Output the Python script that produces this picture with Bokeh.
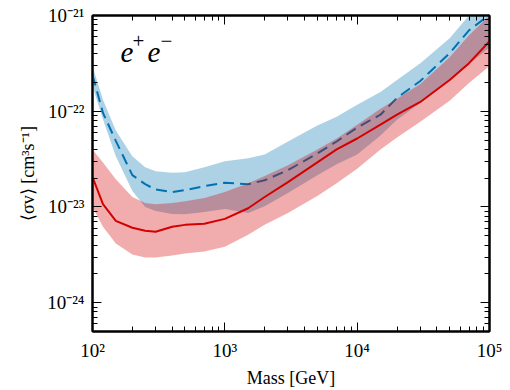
from bokeh.plotting import figure
from bokeh.models import LogAxis, LogTicker, CustomJSTickFormatter, Label, Range1d
from bokeh.embed import file_html
from bokeh.resources import INLINE

# ---- data ----
mass = [100, 120, 150, 200, 250, 300, 400, 500, 700, 1000, 1500, 2000,
        3000, 5000, 7000, 10000, 15000, 20000, 30000, 50000, 70000, 100000]

blue_med = [2.39e-22, 9.6e-23, 4.9e-23, 2.15e-23, 1.73e-23, 1.52e-23, 1.43e-23,
            1.50e-23, 1.65e-23, 1.79e-23, 1.73e-23, 1.90e-23, 2.42e-23, 3.63e-23,
            4.83e-23, 6.75e-23, 9.2e-23, 1.38e-22, 2.07e-22, 4.04e-22, 7.0e-22, 1.02e-21]
blue_hi = [2.96e-22, 1.32e-22, 6.28e-23, 3.38e-23, 2.60e-23, 2.36e-23, 2.28e-23,
           2.31e-23, 2.60e-23, 3.00e-23, 3.22e-23, 3.54e-23, 4.83e-23, 7.08e-23,
           8.77e-23, 1.17e-22, 1.59e-22, 2.12e-22, 3.18e-22, 5.78e-22, 1.0e-21, 1.8e-21]
blue_lo = [1.84e-22, 8.2e-23, 3.38e-23, 1.47e-23, 1.0e-23, 9.1e-24, 8.46e-24,
           8.4e-24, 8.87e-24, 9.53e-24, 8.67e-24, 1.02e-23, 1.40e-23, 2.15e-23,
           2.79e-23, 3.54e-23, 5.57e-23, 8.17e-23, 1.22e-22, 2.12e-22, 3.10e-22, 4.66e-22]

red_med = [2.05e-23, 1.07e-23, 7.16e-24, 6.06e-24, 5.64e-24, 5.51e-24, 6.21e-24,
           6.50e-24, 6.67e-24, 7.51e-24, 9.7e-24, 1.27e-23, 1.82e-23, 2.92e-23,
           3.99e-23, 5.19e-23, 7.24e-23, 9.2e-23, 1.25e-22, 2.12e-22, 3.18e-22, 5.38e-22]
red_hi = [3.99e-23, 2.92e-23, 1.95e-23, 1.27e-23, 1.10e-23, 1.07e-23, 1.10e-23,
          1.15e-23, 1.24e-23, 1.43e-23, 1.77e-23, 2.10e-23, 2.72e-23, 3.99e-23,
          5.19e-23, 7.24e-23, 1.06e-22, 1.35e-22, 1.93e-22, 3.67e-22, 6.21e-22, 1.0e-21]
red_lo = [1.0e-23, 6.21e-24, 4.14e-24, 3.18e-24, 2.96e-24, 2.96e-24, 3.11e-24,
          3.26e-24, 3.42e-24, 3.85e-24, 5.13e-24, 6.50e-24, 8.67e-24, 1.30e-23,
          1.77e-23, 2.5e-23, 3.99e-23, 5.31e-23, 7.78e-23, 1.29e-22, 1.97e-22, 2.96e-22]

x_limits = (1e2, 1e5)
y_limits = (5e-25, 1e-21)
label_pos = (163, 3.85e-22)
# label pieces: (text, x_offset px, y_offset px, size, style)
label_parts = [("e", 0, 3, "29px", "italic"),
               ("+", 12, 14, "21px", "normal"),
               ("e", 27, 3, "29px", "italic"),
               ("−", 40, 14, "21px", "normal")]

FONT = "Liberation Serif"
BLUE = "#0072B2"
RED = "#d40000"

p = figure(width=510, height=390, x_axis_type="log", y_axis_type="log",
           x_range=Range1d(*x_limits), y_range=Range1d(*y_limits),
           output_backend="svg", toolbar_location=None,
           min_border_left=92, min_border_right=21, min_border_top=15, min_border_bottom=56)
p.grid.visible = False
p.background_fill_color = "white"
p.border_fill_color = "white"
p.outline_line_color = "black"
p.outline_line_width = 2

p.varea(x=mass, y1=blue_lo, y2=blue_hi, fill_color=BLUE, fill_alpha=0.32)
p.line(x=mass, y=blue_med, line_color=BLUE, line_width=2, line_dash="11 6")
p.varea(x=mass, y1=red_lo, y2=red_hi, fill_color=RED, fill_alpha=0.32)
p.line(x=mass, y=red_med, line_color=RED, line_width=2)

fmt_code = """
const sup = {"0":"\u2070","1":"\u00b9","2":"\u00b2","3":"\u00b3","4":"\u2074",
             "5":"\u2075","6":"\u2076","7":"\u2077","8":"\u2078","9":"\u2079","-":"\u207b"};
const e = Math.round(Math.log10(tick));
return "10" + String(e).split("").map(c => sup[c]).join("");
"""

def style_axis(ax, labels=True):
    ax.ticker = LogTicker(num_minor_ticks=10)
    ax.axis_line_color = "black"
    ax.axis_line_width = 2
    ax.major_tick_in = 9
    ax.major_tick_out = 0
    ax.minor_tick_in = 5
    ax.minor_tick_out = 0
    ax.major_tick_line_color = "black"
    ax.minor_tick_line_color = "black"
    ax.major_tick_line_width = 1
    ax.minor_tick_line_width = 1
    if labels:
        ax.formatter = CustomJSTickFormatter(code=fmt_code)
        ax.major_label_text_font = FONT
        ax.major_label_text_font_size = "19px"
        ax.major_label_text_color = "black"
        ax.major_label_standoff = 8
        ax.axis_label_text_font = FONT
        ax.axis_label_text_font_size = "18px"
        ax.axis_label_text_font_style = "normal"
        ax.axis_label_text_color = "black"
    else:
        ax.formatter = CustomJSTickFormatter(code="return '';")
        ax.major_label_text_font_size = "1px"
        ax.major_label_standoff = 0

style_axis(p.xaxis[0])
style_axis(p.yaxis[0])
p.xaxis[0].axis_label = "Mass [GeV]"
p.xaxis[0].axis_label_standoff = 4
p.yaxis[0].axis_label = "⟨σv⟩ [cm³s⁻¹]"
p.yaxis[0].axis_label_standoff = 6

top = LogAxis()
style_axis(top, labels=False)
p.add_layout(top, "above")
right = LogAxis()
style_axis(right, labels=False)
p.add_layout(right, "right")

for txt, dx, dy, size, style in label_parts:
    p.add_layout(Label(x=label_pos[0], y=label_pos[1], x_offset=dx, y_offset=dy,
                       text=txt, text_font=FONT, text_font_style=style,
                       text_font_size=size, text_color="black",
                       text_baseline="alphabetic"))

open("out.html", "w").write(file_html(p, INLINE))
